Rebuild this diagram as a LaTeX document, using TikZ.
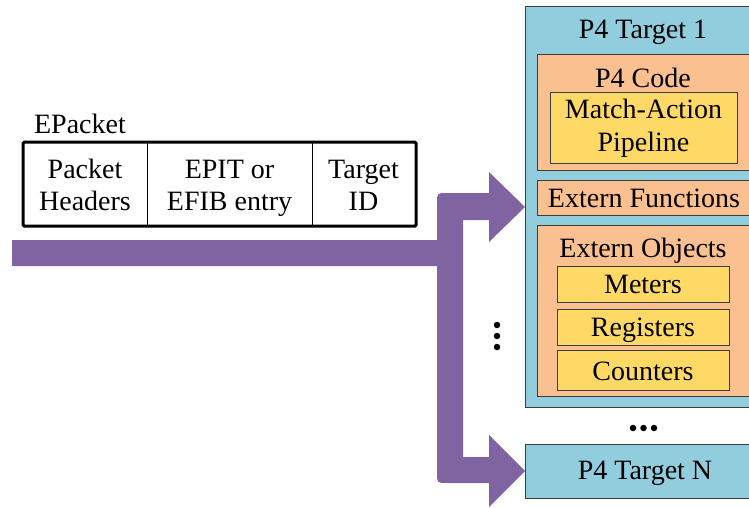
\documentclass[tikz,border=0pt]{standalone}
\usepackage{fontspec}
\setmainfont{Liberation Serif}
\definecolor{tgtblue}{RGB}{146,205,221}
\definecolor{codeorange}{RGB}{250,192,144}
\definecolor{pipeyellow}{RGB}{255,217,102}
\definecolor{flowpurple}{RGB}{128,100,162}
\definecolor{edgegray}{RGB}{60,60,60}
\begin{document}
\begin{tikzpicture}[x=1pt,y=-1pt,
  txt/.style={font=\fontsize{28}{34}\selectfont, inner sep=0pt, anchor=base},
  panel/.style={draw=edgegray, line width=1.2pt, anchor=north west, inner sep=0pt},
  tgt/.style={panel, fill=tgtblue},
  part/.style={panel, fill=codeorange},
  unit/.style={panel, fill=pipeyellow},
  cell/.style={draw=black, line width=1.2pt, anchor=north west, inner sep=0pt, minimum height=83pt},
  dotmark/.style={circle, fill=black, inner sep=0pt, minimum size=6.5pt},
]
\useasboundingbox (0,0) rectangle (749,508);
\clip (0,0) rectangle (749,508);

% Target 1 and its parts
\node[tgt, minimum width=240pt, minimum height=401pt] (t1) at (525,6) {};
\node[part, minimum width=215pt, minimum height=116pt] (code) at (537,54) {};
\node[unit, minimum width=187pt, minimum height=71pt] (mat) at (550,92) {};
\node[part, minimum width=215pt, minimum height=35pt] (extf) at (537,180) {};
\node[part, minimum width=215pt, minimum height=171pt] (exto) at (537,225) {};
\node[unit, minimum width=172pt, minimum height=36pt] (met) at (557,266) {};
\node[unit, minimum width=172pt, minimum height=36pt] (reg) at (557,309) {};
\node[unit, minimum width=172pt, minimum height=40pt] (cnt) at (557,350) {};
% Target N
\node[tgt, minimum width=240pt, minimum height=54pt] (tn) at (525,444) {};

\node[txt] (t1txt) at (643,39) {P4 Target 1};
\node[txt] (codetxt) at (643,88) {P4 Code};
\node[txt] (mattxt) at (643.5,119) {Match-Action};
\node[txt] (piptxt) at (643.5,151) {Pipeline};
\node[txt] (extftxt) at (644,207) {Extern Functions};
\node[txt] (extotxt) at (643,257) {Extern Objects};
\node[txt] (mettxt) at (643,293) {Meters};
\node[txt] (regtxt) at (643,336) {Registers};
\node[txt] (cnttxt) at (643,380) {Counters};
\node[txt] (tntxt) at (645,479) {P4 Target N};

% continuation dots
\node[dotmark] (h1) at (633,428) {};
\node[dotmark] (h2) at (643.5,428) {};
\node[dotmark] (h3) at (654,428) {};
\node[dotmark] (v1) at (497,325) {};
\node[dotmark] (v2) at (497,336) {};
\node[dotmark] (v3) at (497,347) {};

% EPacket format
\node[txt] (eplabel) at (80,133) {EPacket};
\node[cell, minimum width=124pt] (c1) at (23,142) {};
\node[cell, minimum width=165pt] (c2) at (147,142) {};
\node[cell, minimum width=103pt] (c3) at (312,142) {};
\draw[line width=3pt, rounded corners=1.5pt] (c1.north west) rectangle (c3.south east);
\node[txt] (c1a) at (85,178) {Packet};
\node[txt] (c1b) at (85,210) {Headers};
\node[txt] (c2a) at (229.5,178) {EPIT or};
\node[txt] (c2b) at (229.5,210) {EFIB entry};
\node[txt] (c3a) at (363.5,178) {Target};
\node[txt] (c3b) at (363.5,210) {ID};

% forking flow arrow
\fill[flowpurple] (12,240) -- (437,240) -- (437,203)
  .. controls (437,193) .. (447,193) -- (489,193) -- (489,172)
  -- (t1.west |- 0,207) -- (489,242) -- (489,220) -- (463,220)
  -- (463,457) -- (489,457) -- (489,435) -- (tn.west |- 0,471)
  -- (489,507) -- (489,483) -- (447,483)
  .. controls (437,483) .. (437,473) -- (437,266) -- (12,266) -- cycle;
\end{tikzpicture}
\end{document}
